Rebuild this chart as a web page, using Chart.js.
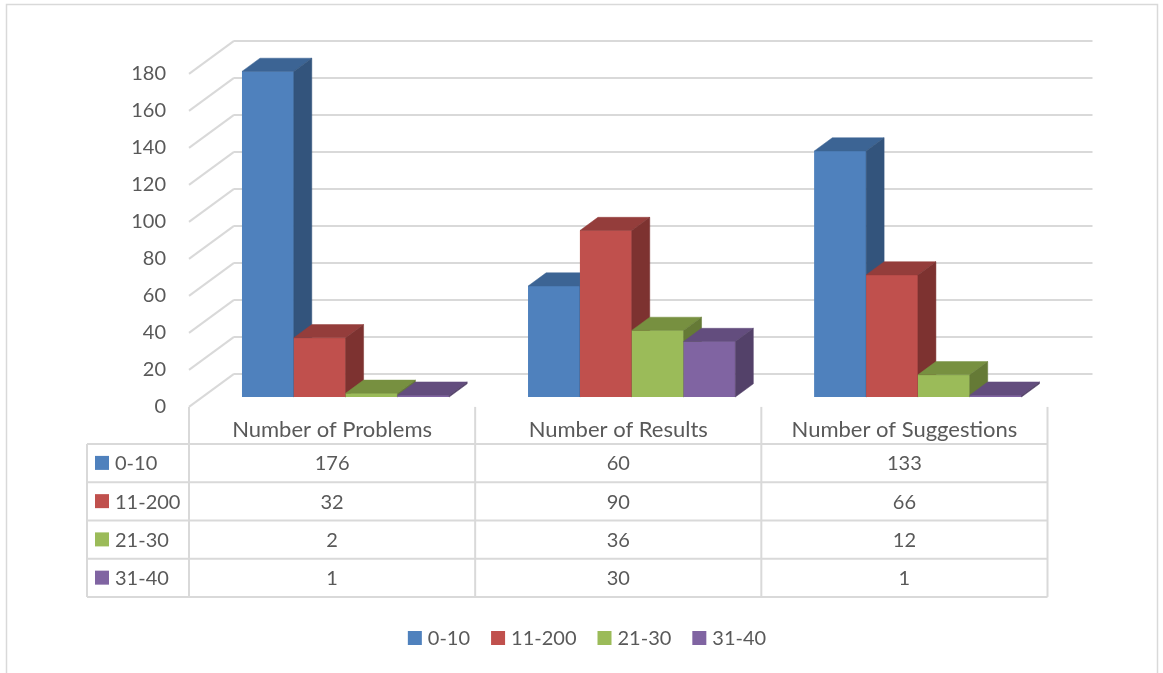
<!DOCTYPE html>
<html>
<head>
<meta charset="utf-8">
<script src="https://cdn.jsdelivr.net/npm/chart.js@4/dist/chart.umd.min.js"></script>
<style>
  html, body { margin: 0; padding: 0; background: #fff; }
  canvas { display: block; }
</style>
</head>
<body>
<canvas id="chart" width="1163" height="673"></canvas>
<script>
// Categories and series
const categories = ['Number of Problems', 'Number of Results', 'Number of Suggestions'];
const seriesNames = ['0-10', '11-200', '21-30', '31-40'];
const values0to10 = [176, 60, 133];
const values11to200 = [32, 90, 66];
const values21to30 = [2, 36, 12];
const values31to40 = [1, 30, 1];
const seriesValues = [values0to10, values11to200, values21to30, values31to40];

// Value axis
const yMin = 0;
const yMax = 180;
const yStep = 20;

// Styling
const frontColors = ['#4F81BD', '#C0504D', '#9BBB59', '#8064A2'];
const topColors = ['#3C6494', '#943D3B', '#779040', '#634D7E'];
const sideColors = ['#33547C', '#7D3230', '#657A36', '#534169'];
const FONT = 'Lato, "Open Sans", "Liberation Sans", sans-serif';
const FONT_SIZE = 20;
const HEADER_SIZE = 22;
const TEXT_COLOR = '#595959';
const LINE_COLOR = '#D9D9D9';

// Oblique projection used for the 3D look: full floor depth vector,
// with the bar plane sitting 30% of the way back from the front edge.
const DEPTH = { x: 45, y: -33 };
const FRONT_T = -0.3;
const BACK_T = 0.7;
const BAR_T = 0.4;

function poly(ctx, pts, color) {
  ctx.beginPath();
  ctx.moveTo(pts[0][0], pts[0][1]);
  for (let i = 1; i < pts.length; i++) ctx.lineTo(pts[i][0], pts[i][1]);
  ctx.closePath();
  ctx.fillStyle = color;
  ctx.fill();
  ctx.strokeStyle = color;
  ctx.lineWidth = 0.5;
  ctx.stroke();
}

function line(ctx, x1, y1, x2, y2) {
  ctx.beginPath();
  ctx.moveTo(x1, y1);
  ctx.lineTo(x2, y2);
  ctx.stroke();
}

const threeDPlugin = {
  id: 'threeDColumns',
  beforeDraw(chart) {
    const ctx = chart.ctx;
    ctx.save();
    ctx.fillStyle = '#fff';
    ctx.fillRect(0, 0, chart.width, chart.height);
    ctx.strokeStyle = LINE_COLOR;
    ctx.lineWidth = 1.5;
    ctx.strokeRect(6.5, 4.5, 1151, 680);
    ctx.restore();
  },
  beforeDatasetsDraw(chart) {
    // back wall gridlines and left wall slants
    const ctx = chart.ctx;
    const xs = chart.scales.x, ys = chart.scales.y;
    const fx = DEPTH.x * FRONT_T, fy = DEPTH.y * FRONT_T;
    const bx = DEPTH.x * BACK_T, by = DEPTH.y * BACK_T;
    ctx.save();
    ctx.strokeStyle = LINE_COLOR;
    ctx.lineWidth = 2;
    ys.ticks.forEach(t => {
      const y = ys.getPixelForValue(t.value);
      line(ctx, xs.left + fx, y + fy, xs.left + bx, y + by);
      line(ctx, xs.left + bx, y + by, xs.right + bx, y + by);
    });
    ctx.restore();
  },
  afterDatasetsDraw(chart) {
    const ctx = chart.ctx;
    const dx = DEPTH.x * BAR_T, dy = DEPTH.y * BAR_T;
    ctx.save();
    for (let j = 0; j < categories.length; j++) {
      for (let i = 0; i < seriesNames.length; i++) {
        const bar = chart.getDatasetMeta(i).data[j];
        const { x, y, base, width } = bar.getProps(['x', 'y', 'base', 'width'], true);
        const l = x - width / 2, r = x + width / 2;
        bar.draw(ctx);
        poly(ctx, [[l, y], [r, y], [r + dx, y + dy], [l + dx, y + dy]], topColors[i]);
        poly(ctx, [[r, y], [r + dx, y + dy], [r + dx, base + dy], [r, base]], sideColors[i]);
      }
    }
    ctx.restore();
  },
  afterDraw(chart) {
    // data table under the plot and the legend below it
    const ctx = chart.ctx;
    const xs = chart.scales.x, ys = chart.scales.y;
    const fx = DEPTH.x * FRONT_T, fy = DEPTH.y * FRONT_T;
    const catW = xs.width / categories.length;
    const tableTop = ys.getPixelForValue(0) + fy;
    const headerH = 37;
    const rowH = 38.25;
    const rowsTop = tableTop + headerH;
    const tableBottom = rowsTop + rowH * seriesNames.length;
    const keyLeft = 87;
    const colX = k => xs.left + fx + k * catW;

    ctx.save();
    ctx.strokeStyle = LINE_COLOR;
    ctx.lineWidth = 2;
    for (let k = 0; k <= categories.length; k++) {
      line(ctx, colX(k), tableTop, colX(k), tableBottom);
    }
    line(ctx, keyLeft, rowsTop, keyLeft, tableBottom);
    for (let r = 0; r <= seriesNames.length; r++) {
      const y = rowsTop + r * rowH;
      line(ctx, keyLeft, y, colX(categories.length), y);
    }

    ctx.fillStyle = TEXT_COLOR;
    ctx.textBaseline = 'alphabetic';
    ctx.textAlign = 'center';
    ctx.font = HEADER_SIZE + 'px ' + FONT;
    categories.forEach((c, k) => {
      ctx.fillText(c, colX(k) + catW / 2, tableTop + 30);
    });
    ctx.font = FONT_SIZE + 'px ' + FONT;
    seriesNames.forEach((name, i) => {
      const rt = rowsTop + i * rowH;
      ctx.fillStyle = frontColors[i];
      ctx.fillRect(keyLeft + 8, rt + 12, 14, 14);
      ctx.fillStyle = TEXT_COLOR;
      ctx.textAlign = 'left';
      ctx.fillText(name, keyLeft + 28, rt + 26.5);
      ctx.textAlign = 'center';
      seriesValues[i].forEach((v, k) => {
        ctx.fillText(String(v), colX(k) + catW / 2, rt + 26.5);
      });
    });

    // legend
    const box = 14, gap = 6, spacing = 21;
    const widths = seriesNames.map(n => ctx.measureText(n).width);
    const total = widths.reduce((a, w) => a + box + gap + w, 0) + spacing * (seriesNames.length - 1);
    let lx = 587 - total / 2;
    const ly = 645;
    ctx.textAlign = 'left';
    seriesNames.forEach((n, i) => {
      ctx.fillStyle = frontColors[i];
      ctx.fillRect(lx, ly - 14, box, box);
      ctx.fillStyle = TEXT_COLOR;
      ctx.fillText(n, lx + box + gap, ly);
      lx += box + gap + widths[i] + spacing;
    });
    ctx.restore();
  }
};

new Chart(document.getElementById('chart'), {
  type: 'bar',
  data: {
    labels: categories,
    datasets: seriesNames.map((name, i) => ({
      label: name,
      data: seriesValues[i],
      backgroundColor: frontColors[i],
      borderWidth: 0,
      categoryPercentage: 0.724,
      barPercentage: 1
    }))
  },
  options: {
    responsive: false,
    animation: false,
    devicePixelRatio: 1,
    layout: { padding: { top: 64, bottom: 276, left: 0, right: 102 } },
    plugins: { legend: { display: false }, tooltip: { enabled: false } },
    scales: {
      x: { display: false },
      y: {
        min: yMin,
        max: yMax,
        afterFit(scale) { scale.width = 202.5; },
        grid: { display: false, drawTicks: false, tickLength: 0 },
        border: { display: false },
        ticks: {
          stepSize: yStep,
          padding: 36.5,
          labelOffset: 10,
          color: TEXT_COLOR,
          font: { family: FONT, size: FONT_SIZE }
        }
      }
    }
  },
  plugins: [threeDPlugin]
});
</script>
</body>
</html>
